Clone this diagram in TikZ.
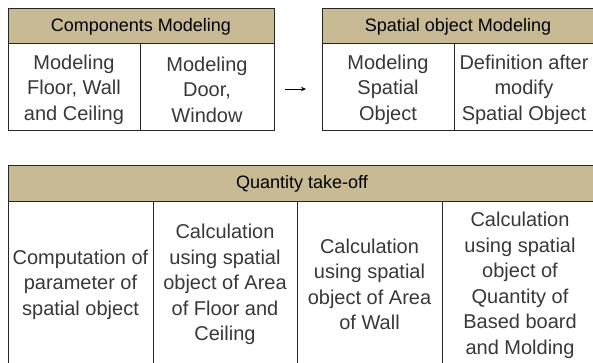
\documentclass[tikz,border=0pt]{standalone}
\usepackage{fontspec}
\setmainfont{Liberation Sans}
\usetikzlibrary{arrows.meta}
\definecolor{headtan}{HTML}{C8BA94}
\definecolor{inkgray}{HTML}{383838}
\definecolor{rulegray}{HTML}{262626}
\begin{document}
\begin{tikzpicture}[x=1pt,y=-1pt,
  rule/.style={draw=rulegray,line width=0.9pt},
  frame/.style={rule,rectangle,inner sep=0pt,outer sep=0pt,anchor=north west},
  headfill/.style={fill=headtan},
  headtext/.style={font=\fontsize{18}{22}\selectfont,text=black,inner sep=0pt},
  celltext/.style={font=\fontsize{20}{25.5}\selectfont,text=inkgray,align=center,inner sep=0pt},
  flow/.style={draw=black,line width=0.9pt,-{Stealth[length=5pt,width=4.5pt]}}]
\useasboundingbox (0,0) rectangle (593,362);
\clip (0,0) rectangle (593,362);

% header bands
\fill[headfill] (8,8) rectangle (274,43);
\fill[headfill] (322,8) rectangle (598,43);
\fill[headfill] (8,165) rectangle (598,201);

% Components Modeling
\node[frame,minimum width=266pt,minimum height=122pt] (compTable) at (8,8) {};
\draw[rule] (8,43) -- (274,43);
\draw[rule] (140,43) -- (140,130);
\node[headtext] (compHead) at (141,26.5) {Components Modeling};
\node[celltext] (compA) at (74,89.5) {Modeling\\Floor, Wall\\and Ceiling};
\node[celltext] (compB) at (207,89.5) {Modeling\\Door,\\Window};

% Spatial object Modeling
\node[frame,minimum width=276pt,minimum height=122pt] (spatialTable) at (322,8) {};
\draw[rule] (322,43) -- (598,43);
\draw[rule] (454,43) -- (454,130);
\node[headtext] (spatialHead) at (458,26.5) {Spatial object Modeling};
\node[celltext] (spatialA) at (388,89.5) {Modeling\\Spatial\\Object};
\node[celltext] (spatialB) at (524,89.5) {Definition after\\modify\\Spatial Object};

% flow between the two modeling stages
\draw[flow,shorten <=11pt,shorten >=16pt]
  ([yshift=-20pt]compTable.east) -- ([yshift=-20pt]spatialTable.west);

% Quantity take-off
\node[frame,minimum width=590pt,minimum height=210pt] (qtoTable) at (8,165) {};
\draw[rule] (8,201) -- (598,201);
\draw[rule] (153,201) -- (153,375);
\draw[rule] (297,201) -- (297,375);
\draw[rule] (442,201) -- (442,375);
\node[headtext] (qtoHead) at (302,184) {Quantity take-off};
\node[celltext] (qtoA) at (80.5,284.5) {Computation of\\parameter of\\spatial object};
\node[celltext] (qtoB) at (225,284.5) {Calculation\\using spatial\\object of Area\\of Floor and\\Ceiling};
\node[celltext] (qtoC) at (369.5,284.5) {Calculation\\using spatial\\object of Area\\of Wall};
\node[celltext] (qtoD) at (520,285.5) {Calculation\\using spatial\\object of\\Quantity of\\Based board\\and Molding};
\end{tikzpicture}
\end{document}
